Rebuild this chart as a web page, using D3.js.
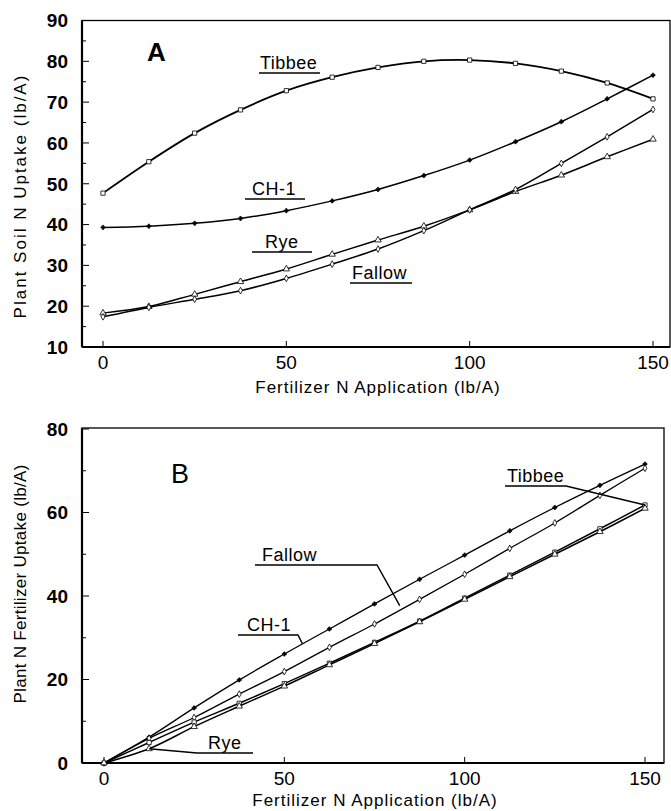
<!DOCTYPE html>
<html>
<head>
<meta charset="utf-8">
<script src="https://cdn.jsdelivr.net/npm/d3@7"></script>
<style>
  body { margin: 0; background: #fff; }
  svg { display: block; font-family: "Liberation Sans", Arial, Helvetica, sans-serif; }
</style>
</head>
<body>
<svg width="671" height="811"></svg>
<script>
// N rates (lb/A)
var rates = [0, 12.5, 25, 37.5, 50, 62.5, 75, 87.5, 100, 112.5, 125, 137.5, 150];

// panel A: plant soil N uptake
var soilTibbee = [47.7, 55.4, 62.4, 68.1, 72.8, 76.1, 78.5, 80.0, 80.3, 79.5, 77.6, 74.7, 70.8];
var soilCH1    = [39.3, 39.6, 40.3, 41.5, 43.4, 45.8, 48.6, 52.0, 55.8, 60.3, 65.2, 70.8, 76.6];
var soilRye    = [18.3, 19.9, 22.9, 26.0, 29.1, 32.7, 36.2, 39.6, 43.6, 48.1, 52.1, 56.6, 60.9];
var soilFallow = [17.4, 19.7, 21.7, 23.8, 26.8, 30.3, 34.0, 38.5, 43.6, 48.6, 55.0, 61.5, 68.2];

// panel B: plant N fertilizer uptake
var fertCH1    = [0, 6.2, 13.2, 19.9, 26.1, 32.1, 38.1, 44.0, 49.8, 55.6, 61.2, 66.5, 71.6];
var fertFallow = [0, 5.9, 10.9, 16.5, 21.9, 27.7, 33.3, 39.2, 45.2, 51.4, 57.5, 64.1, 70.6];
var fertTibbee = [0, 4.9, 9.8, 14.3, 19.0, 23.9, 28.9, 34.0, 39.5, 45.0, 50.5, 56.1, 61.8];
var fertRye    = [0, 3.4, 8.7, 13.6, 18.4, 23.5, 28.6, 33.8, 39.2, 44.6, 50.0, 55.4, 61.0];

var xTicks = [0, 50, 100, 150];
var yTicksA = [10, 20, 30, 40, 50, 60, 70, 80, 90];
var yTicksB = [0, 20, 40, 60, 80];

var svg = d3.select("svg");

var symbols = {
  Tibbee: {type: d3.symbolSquare, size: 18, fill: "#fff"},
  "CH-1": {type: d3.symbolCross, size: 9, fill: "#000"},
  Rye: {type: d3.symbolTriangle, size: 18, fill: "#fff"},
  Fallow: {type: d3.symbolDiamond, size: 13, fill: "#fff"}
};

function panel(opt) {
  var x = d3.scaleLinear().domain([0, 150]).range(opt.xr);
  var y = d3.scaleLinear().domain(opt.yd).range(opt.yr);
  var g = svg.append("g");

  // frame
  g.append("rect")
    .attr("x", opt.frame[0]).attr("y", opt.frame[1])
    .attr("width", opt.frame[2] - opt.frame[0]).attr("height", opt.frame[3] - opt.frame[1])
    .attr("fill", "none").attr("stroke", "#000").attr("stroke-width", 1.3);
  g.append("line")
    .attr("x1", opt.frame[0]).attr("x2", opt.frame[0])
    .attr("y1", opt.frame[1]).attr("y2", opt.frame[3])
    .attr("stroke", "#000").attr("stroke-width", 2.2);
  g.append("line")
    .attr("x1", opt.frame[0]).attr("x2", opt.frame[2])
    .attr("y1", opt.frame[3]).attr("y2", opt.frame[3])
    .attr("stroke", "#000").attr("stroke-width", 1.8);

  // y ticks (inner) + minor
  var yMinor = d3.range(opt.yd[0], opt.yd[1] + 0.01, opt.yStep / 2);
  g.selectAll(".ym").data(yMinor).enter().append("line")
    .attr("x1", opt.frame[0]).attr("x2", function(d, i) { return opt.frame[0] + (i % 2 ? 4 : 7); })
    .attr("y1", function(d) { return y(d); }).attr("y2", function(d) { return y(d); })
    .attr("stroke", "#000").attr("stroke-width", 1);
  g.selectAll(".yl").data(opt.yTicks).enter().append("text")
    .attr("x", opt.frame[0] - 14)
    .attr("y", function(d) { return y(d); })
    .attr("dy", "0.36em")
    .attr("text-anchor", "end")
    .attr("font-size", 19).attr("font-weight", "bold")
    .text(function(d) { return d; });

  // x ticks
  g.selectAll(".xt").data(xTicks).enter().append("line")
    .attr("x1", function(d) { return x(d); }).attr("x2", function(d) { return x(d); })
    .attr("y1", opt.frame[3]).attr("y2", opt.frame[3] - 6)
    .attr("stroke", "#000").attr("stroke-width", 1);
  g.selectAll(".xl").data(xTicks).enter().append("text")
    .attr("x", function(d) { return x(d); })
    .attr("y", opt.frame[3] + 22)
    .attr("text-anchor", "middle")
    .attr("font-size", 19)
    .text(function(d) { return d; });

  // axis titles
  g.append("text")
    .attr("x", opt.xTitle[0]).attr("y", opt.xTitle[1])
    .attr("text-anchor", "middle").attr("font-size", 17)
    .attr("letter-spacing", 1)
    .text("Fertilizer N Application (lb/A)");
  g.append("text")
    .attr("transform", "translate(" + opt.yTitle[0] + "," + opt.yTitle[1] + ") rotate(-90)")
    .attr("text-anchor", "middle").attr("font-size", 17)
    .attr("letter-spacing", opt.yTitle[2])
    .attr("dy", "0.35em")
    .text(opt.yLabel);

  // panel letter
  g.append("text")
    .attr("x", opt.letter[0]).attr("y", opt.letter[1])
    .attr("font-size", opt.letter[2]).attr("font-weight", opt.letter[3])
    .text(opt.letterText);

  var line = d3.line()
    .x(function(d) { return x(d[0]); })
    .y(function(d) { return y(d[1]); })
    .curve(d3.curveCatmullRom);

  opt.series.forEach(function(s) {
    var pts = rates.map(function(r, i) { return [r, s.values[i]]; });
    g.append("path")
      .datum(pts)
      .attr("fill", "none").attr("stroke", "#000")
      .attr("stroke-width", s.width)
      .attr("d", line);
    var sym = symbols[s.name];
    g.selectAll(null).data(pts).enter().append("path")
      .attr("transform", function(d) { return "translate(" + x(d[0]) + "," + y(d[1]) + ")"; })
      .attr("d", d3.symbol().type(sym.type).size(sym.size))
      .attr("fill", sym.fill).attr("stroke", "#000").attr("stroke-width", 0.8);
  });

  // series labels with underline and optional leader
  opt.labels.forEach(function(l) {
    g.append("text")
      .attr("x", l.x).attr("y", l.y)
      .attr("font-size", 18).attr("letter-spacing", 0.5)
      .text(l.name);
    var pts = [[l.u0, l.y + 4], [l.u1, l.y + 4]];
    if (l.to) pts.push([x(l.to[0]), y(l.to[1])]);
    if (l.from) pts.unshift([x(l.from[0]), y(l.from[1])]);
    g.append("path")
      .attr("d", d3.line()(pts))
      .attr("fill", "none").attr("stroke", "#000").attr("stroke-width", 1.4);
  });
}

panel({
  xr: [103, 653], yd: [10, 90], yr: [347, 20.5], yStep: 10,
  frame: [82, 20.5, 670, 347],
  yTicks: yTicksA,
  xTitle: [378, 393], yTitle: [20, 196, 2], yLabel: "Plant Soil N Uptake (lb/A)",
  letter: [147, 61, 26, "bold"], letterText: "A",
  series: [
    {name: "Tibbee", values: soilTibbee, width: 1.8},
    {name: "CH-1", values: soilCH1, width: 1.5},
    {name: "Rye", values: soilRye, width: 1.5},
    {name: "Fallow", values: soilFallow, width: 1.5}
  ],
  labels: [
    {name: "Tibbee", x: 260, y: 69, u0: 259, u1: 320},
    {name: "CH-1", x: 252, y: 195, u0: 245, u1: 305},
    {name: "Rye", x: 265, y: 248, u0: 252, u1: 312},
    {name: "Fallow", x: 352, y: 279, u0: 350, u1: 412}
  ]
});

panel({
  xr: [104, 645], yd: [0, 80], yr: [763, 429], yStep: 20,
  frame: [82, 428, 664, 763],
  yTicks: yTicksB,
  xTitle: [375, 806], yTitle: [20, 584, 0.3], yLabel: "Plant N Fertilizer Uptake (lb/A)",
  letter: [171, 483, 27, "normal"], letterText: "B",
  series: [
    {name: "CH-1", values: fertCH1, width: 1.3},
    {name: "Fallow", values: fertFallow, width: 1.3},
    {name: "Tibbee", values: fertTibbee, width: 1.5},
    {name: "Rye", values: fertRye, width: 1.5}
  ],
  labels: [
    {name: "Tibbee", x: 507, y: 482, u0: 505, u1: 566, to: [150, 61.8]},
    {name: "Fallow", x: 262, y: 561, u0: 255, u1: 377, to: [82, 37.7]},
    {name: "CH-1", x: 247, y: 631, u0: 238, u1: 298, to: [55, 28.6]},
    {name: "Rye", x: 208, y: 749, u0: 197, u1: 253, from: [12.5, 3.4]}
  ]
});
</script>
</body>
</html>
